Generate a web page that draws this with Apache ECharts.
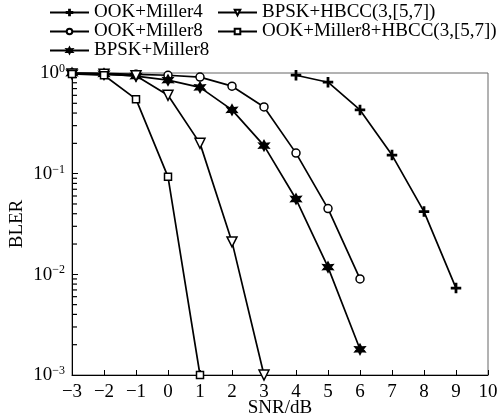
<!DOCTYPE html>
<html><head><meta charset="utf-8">
<script src="https://cdn.jsdelivr.net/npm/echarts@6/dist/echarts.min.js"></script>
<style>html,body{margin:0;padding:0;background:#fff}#c{width:502px;height:420px}</style>
</head><body><div id="c"></div>
<script>
var ookMiller4X = [4,5,6,7,8,9];
var ookMiller4 = [0.95,0.81,0.43,0.153,0.042,0.0073];
var ookMiller8X = [-3,-2,-1,0,1,2,3,4,5,6];
var ookMiller8 = [1.0,0.99,0.97,0.95,0.91,0.74,0.46,0.16,0.045,0.0090];
var bpskMiller8X = [-3,-2,-1,0,1,2,3,4,5,6];
var bpskMiller8 = [1.0,0.98,0.93,0.85,0.72,0.43,0.19,0.056,0.0118,0.0018];
var bpskHbccX = [-3,-2,-1,0,1,2,3];
var bpskHbcc = [0.98,0.97,0.94,0.60,0.20,0.021,0.001];
var ookHbccX = [-3,-2,-1,0,1];
var ookHbcc = [0.98,0.95,0.55,0.093,0.001];
var names = ['OOK+Miller4','OOK+Miller8','BPSK+Miller8','BPSK+HBCC(3,[5,7])','OOK+Miller8+HBCC(3,[5,7])'];
var yExp = {'0.001':'−3','0.01':'−2','0.1':'−1','1':'0'};
var minorTicks = [];
[0.001,0.01,0.1].forEach(function(d){for(var k=2;k<=9;k++)minorTicks.push(+(d*k).toPrecision(3));});

var FONT = '"Liberation Serif","DejaVu Serif",serif';
function pairs(xs, ys){return xs.map(function(x,i){return [x, ys[i]];});}
var plusSym = 'path://M4.3,0H5.7V4.3H10V5.7H5.7V10H4.3V5.7H0V4.3H4.3Z';
var starSym = 'path://M5,0L6.3,2.8L9.3,2.5L7.6,5L9.3,7.5L6.3,7.2L5,10L3.7,7.2L0.7,7.5L2.4,5L0.7,2.5L3.7,2.8Z';
var triSym = 'path://M0,0L10,0L5,9Z';

function mk(name, xs, ys, sym, size, fill){
  return {name:name, type:'line', data:pairs(xs,ys), symbol:sym, symbolSize:size, showSymbol:true,
    lineStyle:{color:'#000', width:1.7}, itemStyle:{color:fill?'#000':'#fff', borderColor:'#000', borderWidth:1.5},
    emphasis:{disabled:true}, z:3, clip:false};
}
var series = [
  mk(names[0], ookMiller4X, ookMiller4, plusSym, 9, true),
  mk(names[1], ookMiller8X, ookMiller8, 'circle', 8, false),
  mk(names[2], bpskMiller8X, bpskMiller8, starSym, 10, true),
  mk(names[3], bpskHbccX, bpskHbcc, triSym, 10, false),
  mk(names[4], ookHbccX, ookHbcc, 'rect', 7, false),
  {name:'minor', type:'scatter', data:minorTicks.map(function(v){return [-3, v];}), symbol:'rect', symbolSize:[5,1.2],
   symbolOffset:[2.5,0], itemStyle:{color:'#000', opacity:1}, silent:true, z:10, clip:false, emphasis:{disabled:true}}
];
var chart = echarts.init(document.getElementById('c'), null, {renderer:'canvas'});
var legText = {fontFamily:FONT, fontSize:19, color:'#000', lineHeight:18};
chart.setOption({
  animation:false,
  backgroundColor:'#fff',
  legend:[
    {left:49, top:3, orient:'vertical', itemGap:0, itemWidth:39, itemHeight:7, data:names.slice(0,3), textStyle:legText, padding:0, selectedMode:false},
    {left:217, top:3, orient:'vertical', itemGap:0, itemWidth:39, itemHeight:7, data:names.slice(3,5), textStyle:legText, padding:0, selectedMode:false}
  ],
  grid:{left:72, right:14, top:73, bottom:45, outerBoundsMode:'none', containLabel:false, show:true, borderColor:'#666', borderWidth:1, backgroundColor:'transparent'},
  xAxis:{type:'value', min:-3, max:10, interval:1, name:'SNR/dB', nameLocation:'middle', nameGap:24, nameMoveOverlap:false,
    nameTextStyle:{fontFamily:FONT, fontSize:19, color:'#000'},
    axisLine:{show:true, onZero:false, lineStyle:{color:'#000', width:1}},
    axisTick:{show:true, inside:true, length:5, lineStyle:{color:'#000'}},
    axisLabel:{fontFamily:FONT, fontSize:19, color:'#000', margin:8, formatter:function(v){return v<0?'−'+(-v):String(v);}},
    splitLine:{show:false}},
  yAxis:{type:'log', logBase:10, min:0.001, max:1, name:'BLER', nameLocation:'middle', nameGap:45, nameMoveOverlap:false,
    nameTextStyle:{fontFamily:FONT, fontSize:19, color:'#000'},
    axisLine:{show:true, onZero:false, lineStyle:{color:'#000', width:1}},
    axisTick:{show:true, inside:true, length:6, lineStyle:{color:'#000'}},
    axisLabel:{fontFamily:FONT, fontSize:19, color:'#000', margin:7,
      formatter:function(v){var k=yExp[String(+(+v).toPrecision(3))]; return '{b|10}{s|'+k+'}';},
      rich:{b:{fontFamily:FONT, fontSize:19, color:'#000', lineHeight:20, verticalAlign:'bottom'},
            s:{fontFamily:FONT, fontSize:12, color:'#000', lineHeight:20, verticalAlign:'top', padding:[0,0,8,0]}}},
    splitLine:{show:false}},
  series:series
});
</script></body></html>
